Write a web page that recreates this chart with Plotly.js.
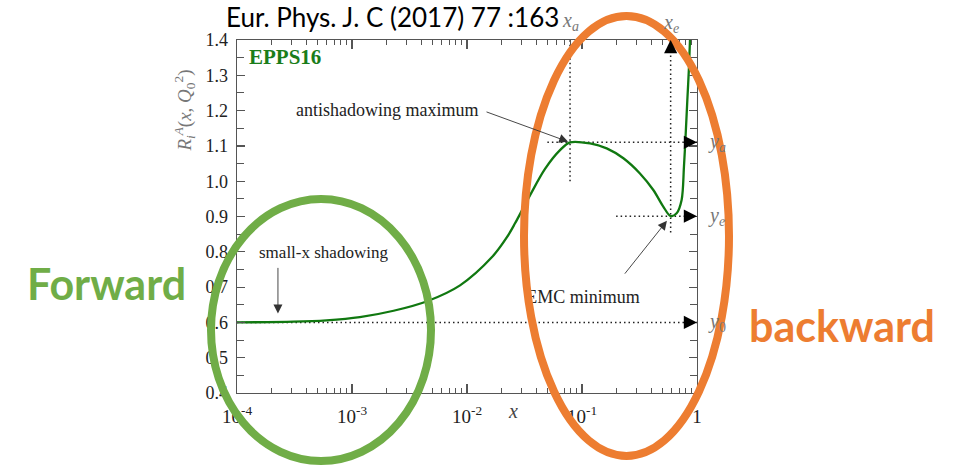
<!DOCTYPE html>
<html>
<head>
<meta charset="utf-8">
<script src="https://cdn.plot.ly/plotly-3.0.1.min.js"></script>
<style>
  html, body { margin: 0; padding: 0; background: #ffffff; }
  #chart { width: 964px; height: 467px; }
</style>
</head>
<body>
<div id="chart"></div>
<script>
// EPPS16 nuclear modification R_i^A(x, Q0^2) versus x
const xValues = [1e-4, 3.1e-4, 6e-4, 1.17e-3, 2.3e-3, 4.5e-3, 8.7e-3, 0.0165, 0.0221,
                 0.0261, 0.0353, 0.0477, 0.0644, 0.0787, 0.1175, 0.164, 0.229, 0.319, 0.417,
                 0.509, 0.590, 0.665, 0.735, 0.770, 0.798, 0.824, 0.852, 0.869];
const rValues = [0.600, 0.602, 0.606, 0.615, 0.633, 0.660, 0.705, 0.785, 0.840,
                 0.880, 0.960, 1.035, 1.088, 1.110, 1.107, 1.093, 1.065, 1.022, 0.975,
                 0.928, 0.901, 0.909, 0.947, 1.041, 1.136, 1.230, 1.324, 1.400];

const xTickVals = [1e-4, 1e-3, 1e-2, 1e-1, 1];
const xTickText = ['10<sup>-4</sup>', '10<sup>-3</sup>', '10<sup>-2</sup>', '10<sup>-1</sup>', '1'];
const yTickVals = [0.4, 0.5, 0.6, 0.7, 0.8, 0.9, 1.0, 1.1, 1.2, 1.3, 1.4];
const yTickText = ['0.4', '0.5', '0.6', '0.7', '0.8', '0.9', '1.0', '1.1', '1.2', '1.3', '1.4'];

// characteristic points taken from the curve itself
const iA = rValues.indexOf(Math.max(...rValues.slice(0, 20)));           // antishadowing maximum
let iE = iA;
for (let i = iA; i < rValues.length; i++) { if (rValues[i] < rValues[iE]) iE = i; }  // EMC minimum
const x0 = xValues[0], y0 = rValues[0];
const xa = xValues[iA], ya = rValues[iA];
const xe = xValues[iE], ye = rValues[iE];
const xMax = 1, yTop = 1.4;

// minor ticks 2..9 in every decade
const minorX = [];
for (let d = -4; d < 0; d++) for (let k = 2; k <= 9; k++) minorX.push(k * Math.pow(10, d));

const serif = 'Liberation Serif, Times New Roman, serif';
const sans = 'Lato, Open Sans, sans-serif';
const dotted = { color: '#222', width: 1.5, dash: '1.5px,3px' };

const traces = [
  { x: [x0, xMax], y: [y0, y0], mode: 'lines', line: dotted, hoverinfo: 'skip' },
  { x: [0.05, xMax], y: [ya, ya], mode: 'lines', line: dotted, hoverinfo: 'skip' },
  { x: [0.198, xMax], y: [ye, ye], mode: 'lines', line: dotted, hoverinfo: 'skip' },
  { x: [xa, xa], y: [1.0, yTop], mode: 'lines', line: dotted, hoverinfo: 'skip' },
  { x: [xe, xe], y: [0.855, yTop], mode: 'lines', line: dotted, hoverinfo: 'skip' },
  { x: xValues, y: rValues, mode: 'lines', line: { color: '#107810', width: 2.3, shape: 'spline', smoothing: 0.9 },
    hoverinfo: 'skip' },
  { x: [0.102], y: [0.669], mode: 'text', text: ['EMC minimum'], textposition: 'middle center',
    textfont: { family: serif, size: 18, color: '#222' }, cliponaxis: false, hoverinfo: 'skip' }
];

const arrowHead = (x, y, ax, ay) => ({
  x: Math.log10(x), y: y, xref: 'x', yref: 'y', text: '', showarrow: true,
  arrowhead: 2, arrowsize: 2.4, arrowwidth: 1.1, arrowcolor: '#000', ax: ax, ay: ay, standoff: 0
});
const pointer = (x, y, ax, ay, standoff) => ({
  x: Math.log10(x), y: y, xref: 'x', yref: 'y', text: '', showarrow: true,
  arrowhead: 2, arrowsize: 2.0, arrowwidth: 0.9, arrowcolor: '#333', ax: ax, ay: ay, standoff: standoff
});
const label = (text, x, y, size, color, extra) => Object.assign({
  text: text, x: x, y: y, xref: 'paper', yref: 'paper', showarrow: false,
  font: { family: serif, size: size, color: color }, xanchor: 'center', yanchor: 'middle'
}, extra || {});
const markerName = (text, x, xref, y, yref) => ({
  text: text, x: x, y: y, xref: xref, yref: yref, showarrow: false,
  font: { family: serif, size: 20, color: '#777' }, xanchor: 'center', yanchor: 'middle'
});

const annotations = [
  arrowHead(xMax, y0, -14, 0),
  arrowHead(xMax, ya, -14, 0),
  arrowHead(xMax, ye, -14, 0),
  arrowHead(xe, yTop, 0, 14),
  pointer(xa, ya, -85, -31, 2),
  pointer(xe, ye, -47, 59, 6),
  pointer(2.27e-4, y0, 0, -56, 9),
  markerName('<i>y</i><sub><i>a</i></sub>', 1.043, 'paper', ya, 'y'),
  markerName('<i>y</i><sub><i>e</i></sub>', 1.043, 'paper', ye, 'y'),
  markerName('<i>y</i><sub>0</sub>', 1.043, 'paper', y0, 'y'),
  markerName('<i>x</i><sub><i>a</i></sub>', Math.log10(xa), 'x', 1.053, 'paper'),
  markerName('<i>x</i><sub><i>e</i></sub>', Math.log10(xe), 'x', 1.047, 'paper'),
  label('antishadowing maximum', 0.325, 0.802, 18, '#222'),
  label('small-x shadowing', 0.189, 0.399, 17, '#222'),
  label('<b>EPPS16</b>', 0.021, 0.952, 21, '#1a7d1a', { xanchor: 'left' }),
  label('<i>x</i>', 0.600, -0.052, 20, '#444'),
  label('<i>R</i><sub><i>i</i></sub><sup><i>A</i></sup>(<i>x</i>, <i>Q</i><sub>0</sub><sup>2</sup>)',
        -0.113, 0.80, 19, '#777', { textangle: -90 }),
  { text: 'Eur. Phys. J. C (2017) 77 :163', x: 0.337, y: 1.066, xref: 'paper', yref: 'paper',
    showarrow: false, xanchor: 'center', yanchor: 'middle',
    font: { family: sans, size: 26, color: '#000' } },
  { text: '<b>Forward</b>', x: -0.284, y: 0.309, xref: 'paper', yref: 'paper', showarrow: false,
    xanchor: 'center', yanchor: 'middle', font: { family: sans, size: 43, color: '#70ad47' } },
  { text: '<b>backward</b>', x: 1.315, y: 0.19, xref: 'paper', yref: 'paper', showarrow: false,
    xanchor: 'center', yanchor: 'middle', font: { family: sans, size: 43, color: '#ed7d31' } }
];

// highlight ellipses, in paper units of the 460 x 353 plotting area
const px = v => (v - 237) / 460;
const py = v => (393 - v) / 353;
const shapes = [
  { type: 'circle', xref: 'paper', yref: 'paper', layer: 'above',
    x0: px(211), x1: px(431), y0: py(461), y1: py(199),
    line: { color: '#70ad47', width: 8 } },
  { type: 'circle', xref: 'paper', yref: 'paper', layer: 'above',
    x0: px(524), x1: px(729), y0: py(456), y1: py(16),
    line: { color: '#ed7d31', width: 8 } }
];

const axisCommon = {
  showgrid: false, zeroline: false, showline: true, linecolor: '#555', linewidth: 1.3,
  mirror: 'allticks', ticks: 'inside', tickcolor: '#555', tickwidth: 1.2, ticklen: 9,
  tickfont: { family: serif, size: 18, color: '#222' }
};

const layout = {
  width: 964, height: 467,
  margin: { l: 237, r: 267, t: 40, b: 74, pad: 0 },
  paper_bgcolor: '#ffffff', plot_bgcolor: '#ffffff',
  showlegend: false,
  xaxis: Object.assign({}, axisCommon, {
    type: 'log', range: [-4, 0], tickmode: 'array', tickvals: xTickVals, ticktext: xTickText,
    ticklabelstandoff: 6, tickfont: { family: serif, size: 19, color: '#222' },
    minor: { tickmode: 'array', tickvals: minorX, ticks: 'inside', ticklen: 5, tickcolor: '#555', tickwidth: 1 }
  }),
  yaxis: Object.assign({}, axisCommon, {
    range: [0.4, 1.4], tickmode: 'array', tickvals: yTickVals, ticktext: yTickText,
    ticklen: 8, ticklabelstandoff: 4,
    minor: { dtick: 0.05, ticks: 'inside', ticklen: 7, tickcolor: '#555', tickwidth: 1 }
  }),
  annotations: annotations,
  shapes: shapes
};

Plotly.newPlot('chart', traces, layout, { displayModeBar: false, staticPlot: true });
</script>
</body>
</html>
